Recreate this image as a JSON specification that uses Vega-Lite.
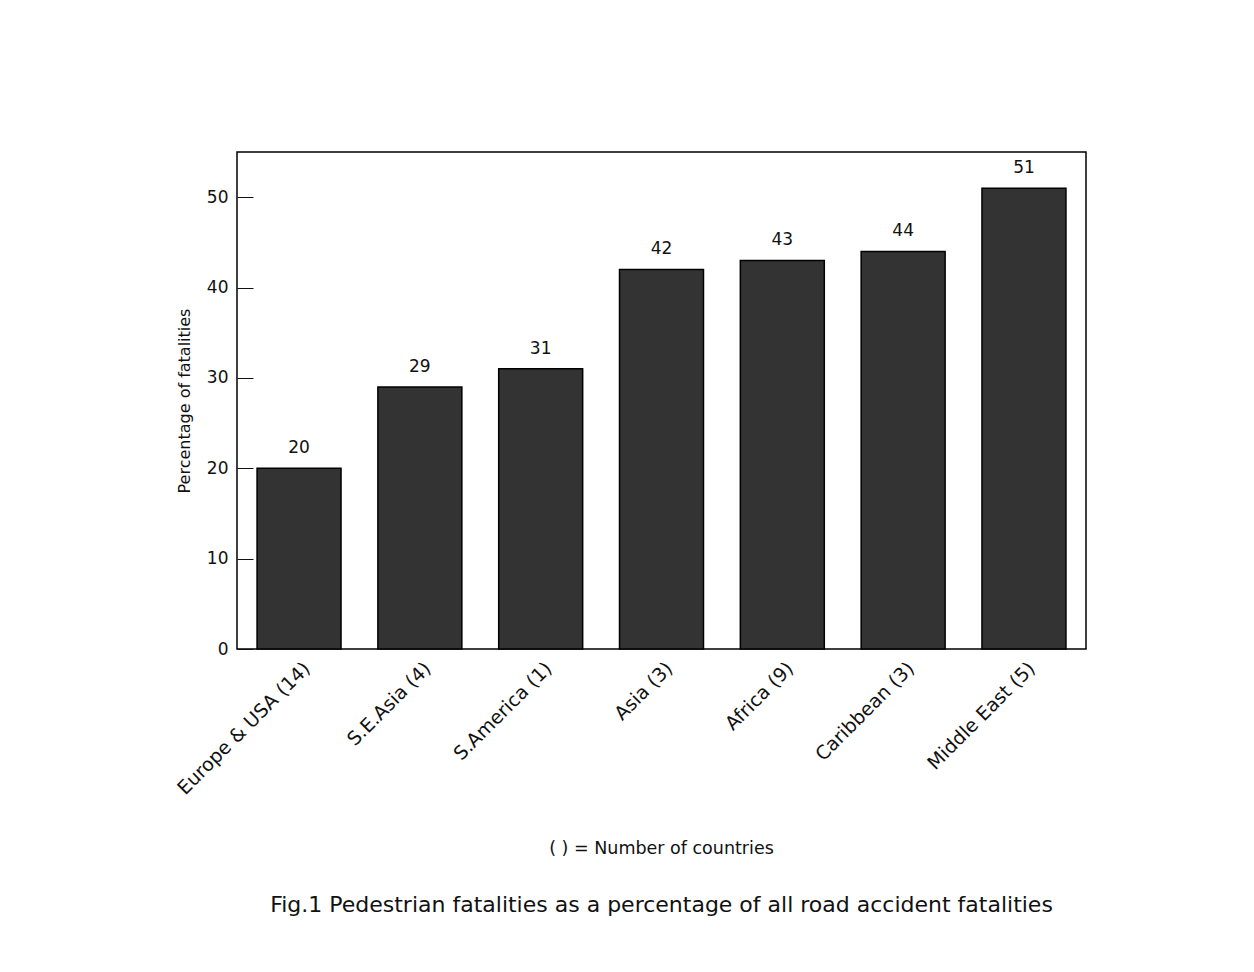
{
  "$schema": "https://vega.github.io/schema/vega-lite/v6.json",
  "autosize": {"type": "none"},
  "padding": {"left": 237, "top": 152, "right": 168, "bottom": 323},
  "width": 849,
  "height": 497,
  "background": "white",
  "data": {
    "values": [
      {"region": "Europe & USA (14)", "pct": 20},
      {"region": "S.E.Asia (4)", "pct": 29},
      {"region": "S.America (1)", "pct": 31},
      {"region": "Asia (3)", "pct": 42},
      {"region": "Africa (9)", "pct": 43},
      {"region": "Caribbean (3)", "pct": 44},
      {"region": "Middle East (5)", "pct": 51}
    ]
  },
  "title": {
    "text": "( ) = Number of countries",
    "subtitle": "Fig.1 Pedestrian fatalities as a percentage of all road accident fatalities",
    "orient": "bottom",
    "anchor": "middle",
    "font": "DejaVu Sans",
    "fontSize": 17.5,
    "fontWeight": "normal",
    "color": "#111",
    "subtitleFont": "DejaVu Sans",
    "subtitleFontSize": 22,
    "subtitleColor": "#111",
    "subtitlePadding": 38,
    "offset": 42
  },
  "encoding": {
    "x": {
      "field": "region",
      "type": "nominal",
      "sort": null,
      "scale": {"paddingInner": 0.305, "paddingOuter": 0.166},
      "axis": {
        "title": null,
        "labelAngle": -45,
        "labelAlign": "right",
        "labelBaseline": "middle",
        "labelFont": "DejaVu Sans",
        "labelFontSize": 19,
        "labelColor": "#111",
        "labelPadding": 16,
        "labelOffset": 8,
        "ticks": false,
        "domain": false
      }
    },
    "y": {
      "field": "pct",
      "type": "quantitative",
      "scale": {"domain": [0, 55], "nice": false},
      "axis": {
        "title": "Percentage of fatalities",
        "titleFont": "DejaVu Sans",
        "titleFontSize": 16,
        "titleFontWeight": "normal",
        "titleColor": "#111",
        "titlePadding": 14,
        "values": [0, 10, 20, 30, 40, 50],
        "grid": false,
        "domain": false,
        "tickSize": -16,
        "tickColor": "#111",
        "tickWidth": 1,
        "labelFont": "DejaVu Sans",
        "labelFontSize": 17,
        "labelColor": "#111",
        "labelPadding": 25
      }
    }
  },
  "layer": [
    {
      "mark": {"type": "bar", "fill": "#333333", "stroke": "#000000", "strokeWidth": 1.5}
    },
    {
      "mark": {
        "type": "text",
        "baseline": "bottom",
        "dy": -11,
        "font": "DejaVu Sans",
        "fontSize": 17,
        "color": "#111"
      },
      "encoding": {"text": {"field": "pct", "type": "quantitative"}}
    }
  ],
  "config": {
    "view": {"stroke": "#000000", "strokeWidth": 1.5}
  }
}
